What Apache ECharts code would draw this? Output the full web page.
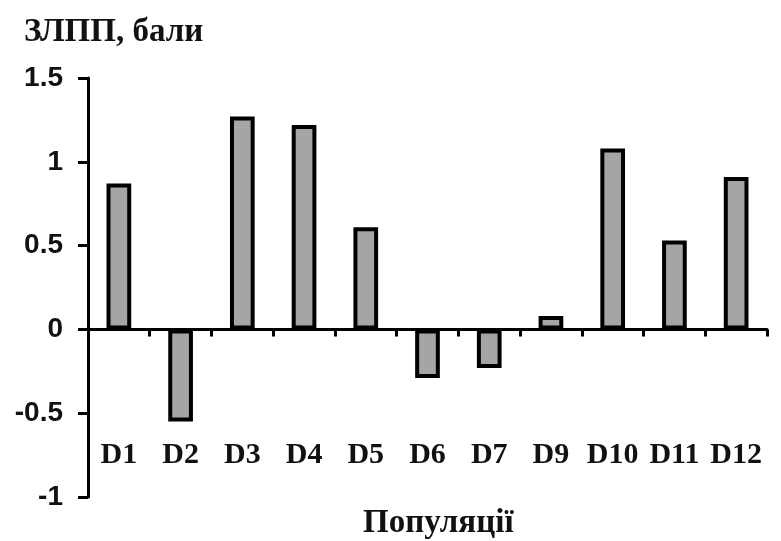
<!DOCTYPE html>
<html>
<head>
<meta charset="utf-8">
<script src="https://cdn.jsdelivr.net/npm/echarts@6/dist/echarts.min.js"></script>
<style>
  html, body { margin: 0; padding: 0; background: #fff; }
  #chart { width: 781px; height: 541px; }
</style>
</head>
<body>
<div id="chart"></div>
<script>
// Populations and their ЗЛПП scores
const populations = ['D1', 'D2', 'D3', 'D4', 'D5', 'D6', 'D7', 'D9', 'D10', 'D11', 'D12'];
const scores = [0.87, -0.55, 1.27, 1.22, 0.61, -0.29, -0.23, 0.08, 1.08, 0.53, 0.91];
const yTicks = { min: -1, max: 1.5, step: 0.5 };
const yTitle = 'ЗЛПП, бали';
const xTitle = 'Популяції';

const chart = echarts.init(document.getElementById('chart'));
const serif = '"Liberation Serif", "Times New Roman", serif';
const sans = '"Liberation Sans", Arial, sans-serif';

chart.setOption({
  animation: false,
  backgroundColor: '#fff',
  title: {
    text: yTitle,
    left: 19,
    top: 11,
    textStyle: { fontFamily: serif, fontWeight: 'bold', fontSize: 33, color: '#111' }
  },
  graphic: [{
    type: 'text',
    left: 363,
    top: 507,
    style: {
      text: xTitle,
      fontFamily: serif,
      fontWeight: 'bold',
      fontSize: 33,
      fill: '#111'
    }
  }],
  grid: { left: 88, right: 14, top: 78, bottom: 44, containLabel: false, outerBoundsMode: 'none' },
  xAxis: [{
    // baseline at zero with boundary ticks
    type: 'category',
    data: populations,
    axisLine: { onZero: true, lineStyle: { color: '#000', width: 3 } },
    axisTick: { show: true, alignWithLabel: false, interval: 0, length: 7, lineStyle: { color: '#000', width: 3 } },
    axisLabel: { show: false },
    splitLine: { show: false }
  }, {
    // category names along the lower part of the plot
    type: 'category',
    data: populations,
    position: 'bottom',
    axisLine: { show: false, onZero: false },
    axisTick: { show: false },
    axisLabel: {
      inside: true,
      interval: 0,
      margin: 27,
      fontFamily: serif,
      fontWeight: 'bold',
      fontSize: 30,
      color: '#111'
    },
    splitLine: { show: false }
  }],
  yAxis: {
    type: 'value',
    min: yTicks.min,
    max: yTicks.max,
    interval: yTicks.step,
    axisLine: { show: true, lineStyle: { color: '#000', width: 3 } },
    axisTick: { show: true, length: 10, lineStyle: { color: '#000', width: 3 } },
    axisLabel: {
      margin: 25,
      fontFamily: sans,
      fontWeight: 'bold',
      fontSize: 28,
      color: '#111',
      formatter: v => String(v)
    },
    splitLine: { show: false }
  },
  series: [{
    type: 'bar',
    data: scores,
    xAxisIndex: 0,
    barWidth: '40%',
    itemStyle: { color: '#a5a5a8', borderColor: '#000', borderWidth: 4 }
  }]
});
</script>
</body>
</html>
